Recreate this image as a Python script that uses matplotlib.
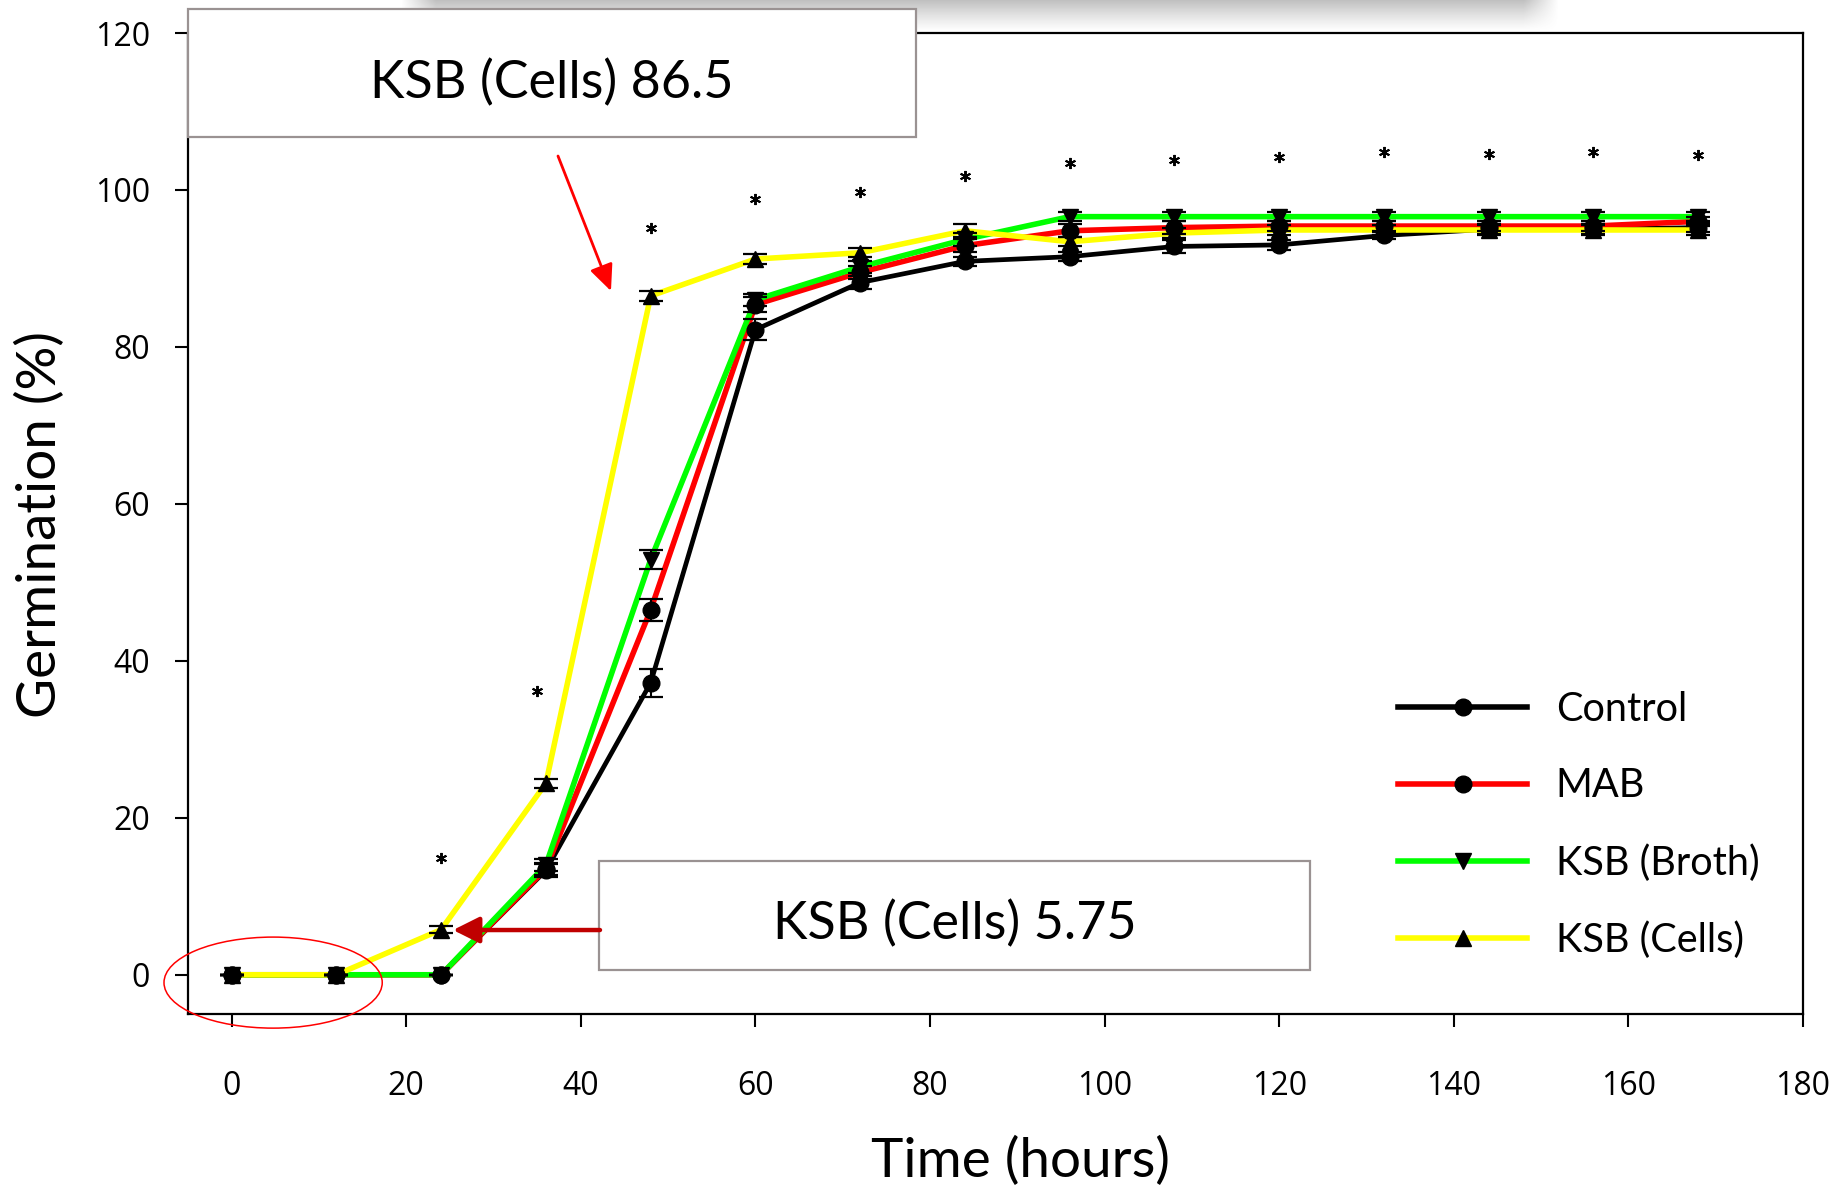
import matplotlib
matplotlib.use("Agg")
import matplotlib.pyplot as plt
import numpy as np
from matplotlib.patches import Ellipse, Rectangle, FancyArrowPatch
from matplotlib.lines import Line2D

# ---------------- data ----------------
hours = [0, 12, 24, 36, 48, 60, 72, 84, 96, 108, 120, 132, 144, 156, 168]
control = [0, 0, 0, 13.3, 37.2, 82.2, 88.2, 90.9, 91.5, 92.8, 93.0, 94.2, 95.0, 95.0, 95.2]
mab = [0, 0, 0, 13.5, 46.5, 85.4, 89.5, 92.9, 94.8, 95.2, 95.4, 95.4, 95.4, 95.4, 96.0]
broth = [0, 0, 0, 14.0, 52.9, 86.0, 90.2, 93.7, 96.6, 96.6, 96.6, 96.6, 96.6, 96.6, 96.6]
cells = [0, 0, 5.75, 24.4, 86.5, 91.2, 92.0, 94.8, 93.4, 94.5, 94.9, 94.9, 94.9, 94.9, 94.9]

control_err = [0, 0, 0, 0.8, 1.8, 1.3, 0.8, 0.6, 0.6, 0.8, 0.6, 0.5, 0.6, 0.6, 0.6]
mab_err = [0, 0, 0, 0.8, 1.4, 1.0, 0.8, 0.8, 0.8, 0.8, 0.6, 0.6, 0.6, 0.6, 0.6]
broth_err = [0, 0, 0, 0.8, 1.2, 0.8, 0.8, 0.8, 0.6, 0.6, 0.6, 0.6, 0.6, 0.6, 0.6]
cells_err = [0, 0, 0.4, 0.6, 0.6, 0.6, 0.6, 0.8, 0.6, 0.6, 0.6, 0.6, 0.6, 0.6, 0.6]

star_hours = [24, 35, 48, 60, 72, 84, 96, 108, 120, 132, 144, 156, 168]
star_y = [14.9, 36.1, 95.1, 98.8, 99.8, 101.8, 103.4, 103.8, 104.2, 104.8, 104.6, 104.9, 104.5]

series_names = ["Control", "MAB", "KSB (Broth)", "KSB (Cells)"]
series_vals = [control, mab, broth, cells]
series_err = [control_err, mab_err, broth_err, cells_err]
series_colors = ["#000000", "#FF0000", "#00FF00", "#FFFF00"]
series_markers = ["o", "o", "v", "^"]

xticks = [0, 20, 40, 60, 80, 100, 120, 140, 160, 180]
yticks = [0, 20, 40, 60, 80, 100, 120]

label_font = "Lato"
tick_font = "Open Sans"

# ---------------- figure ----------------
W, H = 1842, 1189
fig = plt.figure(figsize=(W / 100, H / 100), dpi=100)
fig.patch.set_facecolor("white")

# faint grey shadow strip at the very top
sh = fig.add_axes([400 / W, 1 - 32 / H, (1560 - 400) / W, 32 / H], zorder=0)
gy = np.linspace(0, 1, 40)[:, None]
gx = np.linspace(0, 1, 400)[None, :]
edge = np.clip(np.minimum(gx, 1 - gx) / 0.03, 0, 1)
alpha = (1 - gy) ** 1.2 * edge * 0.38
img = np.zeros((40, 400, 4))
img[..., 0:3] = 0.35
img[..., 3] = alpha
sh.imshow(img, aspect="auto", extent=[0, 1, 0, 1], interpolation="bilinear")
sh.axis("off")

ax = fig.add_axes([188 / W, 1 - 1014 / H, (1803 - 188) / W, (1014 - 33) / H], zorder=1)
ax.set_xlim(-5, 180)
ax.set_ylim(-5, 120)

for vals, col in zip(series_vals, series_colors):
    lw = 3.4 if col == "#000000" else 4.0
    ax.plot(hours, vals, color=col, lw=lw, zorder=2, solid_capstyle="butt")
for vals, err, mk in zip(series_vals, series_err, series_markers):
    ax.errorbar(hours, vals, yerr=err, fmt=mk, color="black", ms=12, mec="black", mfc="black",
                ecolor="black", elinewidth=1.5, capsize=8.5, capthick=1.6, zorder=3)

# significance asterisks
ax.plot(star_hours, star_y, linestyle="none", marker=(6, 2, 0), ms=8, mew=1.4,
        color="black", zorder=4)

ax.set_xticks(xticks)
ax.set_yticks(yticks)
ax.tick_params(axis="both", direction="out", length=9.5, width=1.5, labelsize=23)
ax.tick_params(axis="x", pad=31)
ax.tick_params(axis="y", pad=18)
for lab in ax.get_xticklabels() + ax.get_yticklabels():
    lab.set_family(tick_font)
for s in ax.spines.values():
    s.set_linewidth(1.6)

# axis titles
fig.text(1020 / W, 1 - 1161 / H, "Time (hours)", ha="center", va="center",
         fontsize=39.5, family=label_font)
fig.text(40 / W, 1 - 525 / H, "Germination (%)", ha="center", va="center", rotation=90,
         fontsize=39.5, family=label_font)

# red ellipse around the first points
ell = Ellipse((4.75, -1.0), 25.0, 11.6, fill=False, edgecolor="#FF0000", lw=1.1,
              clip_on=False, zorder=5)
ax.add_patch(ell)

# annotation boxes (axes fraction)
box1 = Rectangle((0.0, 0.894), 0.451, 0.1305, transform=ax.transAxes, facecolor="white",
                 edgecolor="#9A9292", lw=1.6, clip_on=False, zorder=6)
ax.add_patch(box1)
ax.text(0.2254, 0.9337, "KSB (Cells) 86.5", transform=ax.transAxes, ha="center", va="baseline",
        fontsize=37.5, family=label_font, zorder=7, clip_on=False)

box2 = Rectangle((0.2545, 0.0449), 0.4402, 0.1111, transform=ax.transAxes, facecolor="white",
                 edgecolor="#9A9292", lw=1.6, clip_on=False, zorder=6)
ax.add_patch(box2)
ax.text(0.475, 0.0765, "KSB (Cells) 5.75", transform=ax.transAxes, ha="center", va="baseline",
        fontsize=37.5, family=label_font, zorder=7)

# arrows
arr1 = FancyArrowPatch((0.2291, 0.8746), (0.2619, 0.7370), transform=ax.transAxes,
                       arrowstyle="-|>,head_length=1.0,head_width=0.45", mutation_scale=16,
                       color="#FF0000", lw=2.0, zorder=6, shrinkA=0, shrinkB=0)
ax.add_patch(arr1)
arr2 = FancyArrowPatch((0.2551, 0.0856), (0.1641, 0.0856), transform=ax.transAxes,
                       arrowstyle="-|>,head_length=1.0,head_width=0.5", mutation_scale=16,
                       color="#C00000", lw=3.2, zorder=6, shrinkA=0, shrinkB=0)
ax.add_patch(arr2)

# legend
handles = [Line2D([0], [0], color=c, lw=4.0, marker=m, ms=12, mfc="black", mec="black")
           for c, m in zip(series_colors, series_markers)]
leg = fig.legend(handles, series_names, loc="center left", bbox_to_anchor=(1398 / W, 1 - 825 / H),
                 frameon=False, prop={"family": label_font, "size": 28.6},
                 handlelength=3.25, handletextpad=0.72, labelspacing=1.0,
                 borderpad=0, borderaxespad=0)

fig.savefig("out.png", dpi=100, facecolor="white")
